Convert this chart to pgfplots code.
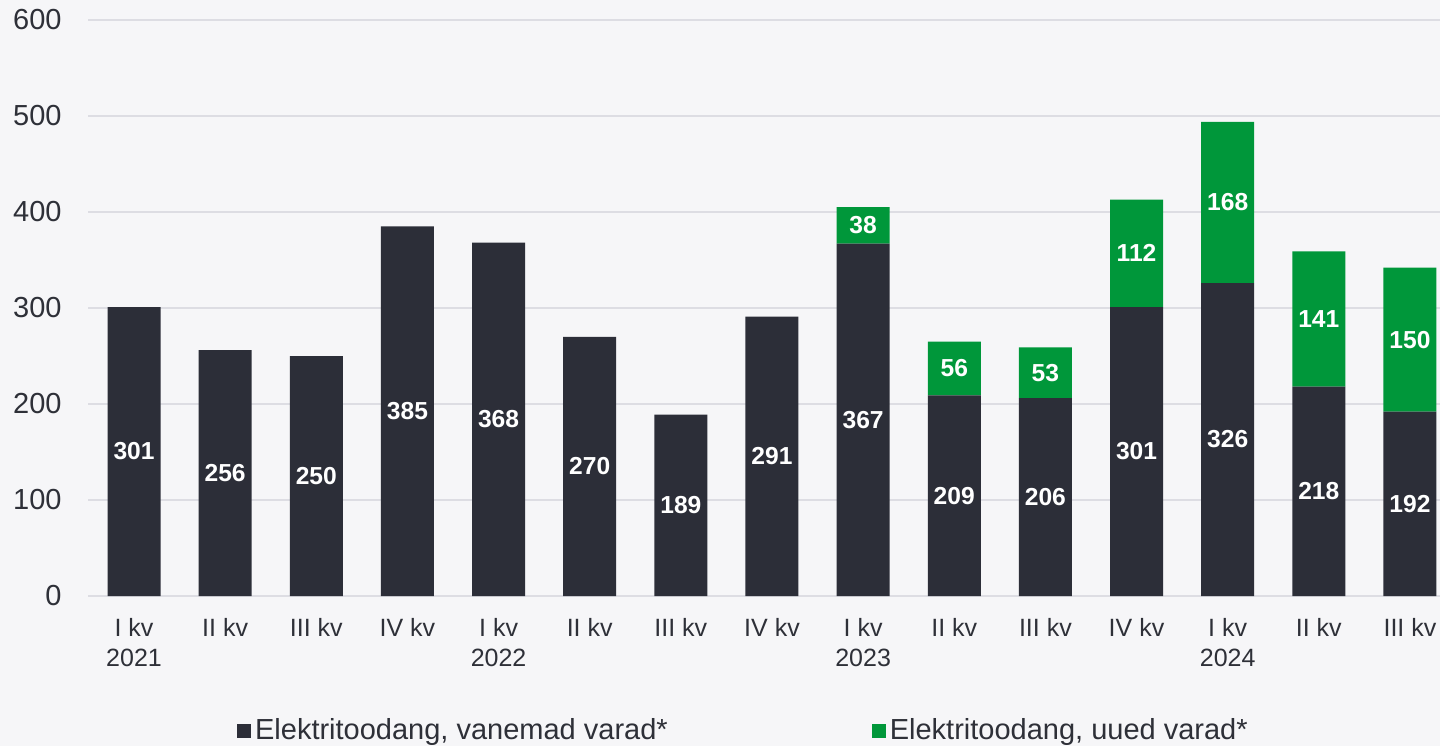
\documentclass[border=0pt]{standalone}
\usepackage{fontspec}
\setmainfont{Liberation Sans}
\usepackage{pgfplots}
\usepackage{pgfplotstable}
\pgfplotsset{compat=1.18}

\definecolor{bg}{HTML}{F6F6F8}
\definecolor{darkbar}{HTML}{2C2E38}
\definecolor{greenbar}{HTML}{00973A}
\definecolor{gridc}{HTML}{DDDDE3}
\definecolor{txt}{HTML}{2E3038}

% electricity production, older assets
\pgfplotstableread{
x y lab
0 301 301
1 256 256
2 250 250
3 385 385
4 368 368
5 270 270
6 189 189
7 291 291
8 367 367
9 209 209
10 206 206
11 301 301
12 326 326
13 218 218
14 192 192
}\oldassets

% electricity production, new assets
\pgfplotstableread{
x y lab
0 0 {}
1 0 {}
2 0 {}
3 0 {}
4 0 {}
5 0 {}
6 0 {}
7 0 {}
8 38 38
9 56 56
10 53 53
11 112 112
12 168 168
13 141 141
14 150 150
}\newassets

\begin{document}
\begin{tikzpicture}
\fill[bg] (0,0) rectangle (720pt,373pt);
\useasboundingbox (0,0) rectangle (720pt,373pt);
\begin{axis}[
    at={(44pt,75pt)}, anchor=south west,
    scale only axis,
    width=676pt, height=288pt,
    ybar stacked,
    bar width=26.5pt,
    xmin=-0.505, xmax=14.33,
    ymin=0, ymax=600,
    ytick={0,100,...,600},
    xtick=data,
    xticklabels={{I kv\\2021},{II kv},{III kv},{IV kv},{I kv\\2022},{II kv},{III kv},{IV kv},{I kv\\2023},{II kv},{III kv},{IV kv},{I kv\\2024},{II kv},{III kv}},
    axis line style={draw=none},
    major tick length=0pt,
    ymajorgrids,
    major grid style={gridc, line width=1pt},
    /pgf/number format/assume math mode=true,
    yticklabel style={font=\fontsize{14.5}{17}\selectfont, text=txt, inner sep=0pt, xshift=-13pt},
    xticklabel style={font=\fontsize{12.5}{15}\selectfont, text=txt, align=center, inner sep=0pt, yshift=-11pt},
    point meta=explicit symbolic,
    nodes near coords,
    every node near coord/.append style={anchor=center, text=white,
        font=\bfseries\fontsize{12.3}{14}\selectfont},
    legend style={at={(0.110,-0.234)}, anchor=west, draw=none, fill=none,
        inner sep=0pt, legend columns=2,
        font=\fontsize{14.5}{17}\selectfont, text=txt,
        /tikz/every even column/.append style={column sep=100pt}},
    legend image code/.code={\fill (0pt,-3.5pt) rectangle (7pt,3.5pt);},
]
\addplot[fill=darkbar, draw=none] table[x=x, y=y, meta=lab] {\oldassets};
\addplot[fill=greenbar, draw=none] table[x=x, y=y, meta=lab] {\newassets};
\legend{{Elektritoodang, vanemad varad*}, {Elektritoodang, uued varad*}}
\end{axis}
\end{tikzpicture}
\end{document}
